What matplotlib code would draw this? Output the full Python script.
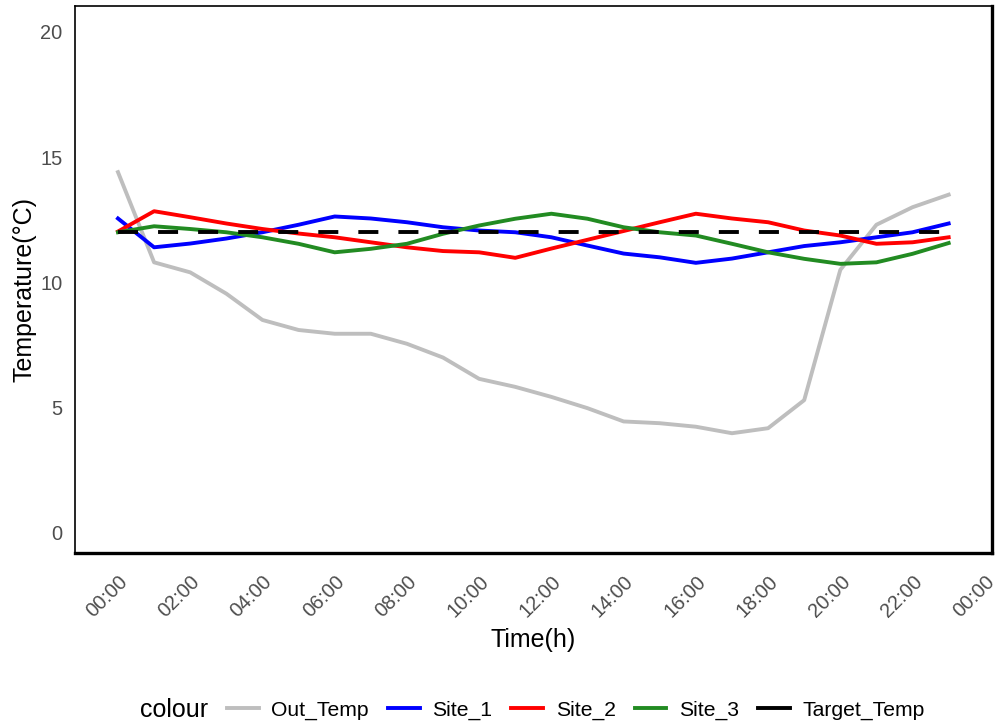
import matplotlib
matplotlib.use("Agg")
import matplotlib.pyplot as plt
from matplotlib.lines import Line2D

plt.rcParams['font.family'] = ['Liberation Sans', 'DejaVu Sans']

# hourly readings over one day
hours = list(range(24))
out_temp = [14.4, 10.8, 10.4, 9.55, 8.5, 8.1, 7.95, 7.95, 7.55, 7.0, 6.15, 5.83,
            5.43, 4.98, 4.45, 4.38, 4.24, 3.98, 4.18, 5.3, 10.5, 12.3, 13.0, 13.5]
site_1 = [12.55, 11.4, 11.55, 11.75, 12.0, 12.3, 12.63, 12.55, 12.4, 12.2, 12.07, 12.0,
          11.8, 11.47, 11.15, 11.0, 10.78, 10.95, 11.2, 11.45, 11.6, 11.8, 12.0, 12.35]
site_2 = [12.03, 12.84, 12.6, 12.35, 12.13, 11.95, 11.8, 11.6, 11.4, 11.25, 11.2, 10.98,
          11.35, 11.7, 12.05, 12.4, 12.74, 12.55, 12.4, 12.07, 11.87, 11.54, 11.6, 11.8]
site_3 = [12.0, 12.24, 12.13, 12.0, 11.8, 11.54, 11.2, 11.34, 11.54, 11.94, 12.27, 12.54,
          12.74, 12.54, 12.2, 12.0, 11.87, 11.54, 11.2, 10.94, 10.74, 10.8, 11.14, 11.57]
target_temp = [12.0] * 24

series_names = ['Out_Temp', 'Site_1', 'Site_2', 'Site_3', 'Target_Temp']
series_colors = ['#BEBEBE', '#0000FF', '#FF0000', '#228B22', '#000000']

x_ticks = list(range(0, 25, 2))
x_labels = ['00:00', '02:00', '04:00', '06:00', '08:00', '10:00', '12:00',
            '14:00', '16:00', '18:00', '20:00', '22:00', '00:00']
y_ticks = [0, 5, 10, 15, 20]

fig = plt.figure(figsize=(10, 7.25), dpi=100)
ax = fig.add_axes([0.075, 1 - 553 / 725, 0.917, 547 / 725])

lw = 2.8
ax.plot(hours, out_temp, color=series_colors[0], lw=lw)
ax.plot(hours, site_1, color=series_colors[1], lw=lw)
ax.plot(hours, site_2, color=series_colors[2], lw=lw)
ax.plot(hours, site_3, color=series_colors[3], lw=lw)
ax.plot(hours, target_temp, color=series_colors[4], lw=lw, dashes=(5.15, 5.15))

ax.set_xlim(-1.19, 24.2)
ax.set_ylim(-0.8, 21.03)
ax.set_xticks(x_ticks)
ax.set_xticklabels(x_labels, rotation=45, ha='right', rotation_mode='anchor')
ax.set_yticks(y_ticks)
ax.tick_params(length=0, labelsize=14.4, labelcolor='#4D4D4D')
ax.tick_params(axis='y', pad=9)
ax.tick_params(axis='x', pad=14)

for side, w in [('left', 1.2), ('top', 1.2), ('bottom', 2.4), ('right', 2.4)]:
    ax.spines[side].set_linewidth(w)
    ax.spines[side].set_color('black')

fig.text(0.025, 1 - 290 / 725, 'Temperature(°C)', rotation=90, fontsize=18,
         ha='center', va='center')
fig.text(0.533, 1 - 640 / 725, 'Time(h)', fontsize=18, ha='center', va='center')

# legend along the bottom, title on the left
fig.text(0.140, 1 - 710 / 725, 'colour', fontsize=18, ha='left', va='center')
handles = [Line2D([], [], color=c, lw=lw) for c in series_colors]
fig.legend(handles, series_names, loc='center left', bbox_to_anchor=(0.227, 1 - 710 / 725),
           ncol=5, frameon=False, fontsize=15.2, handlelength=1.5, handletextpad=0.6,
           columnspacing=0.9, borderpad=0, borderaxespad=0)

fig.savefig('out.png', dpi=100)
